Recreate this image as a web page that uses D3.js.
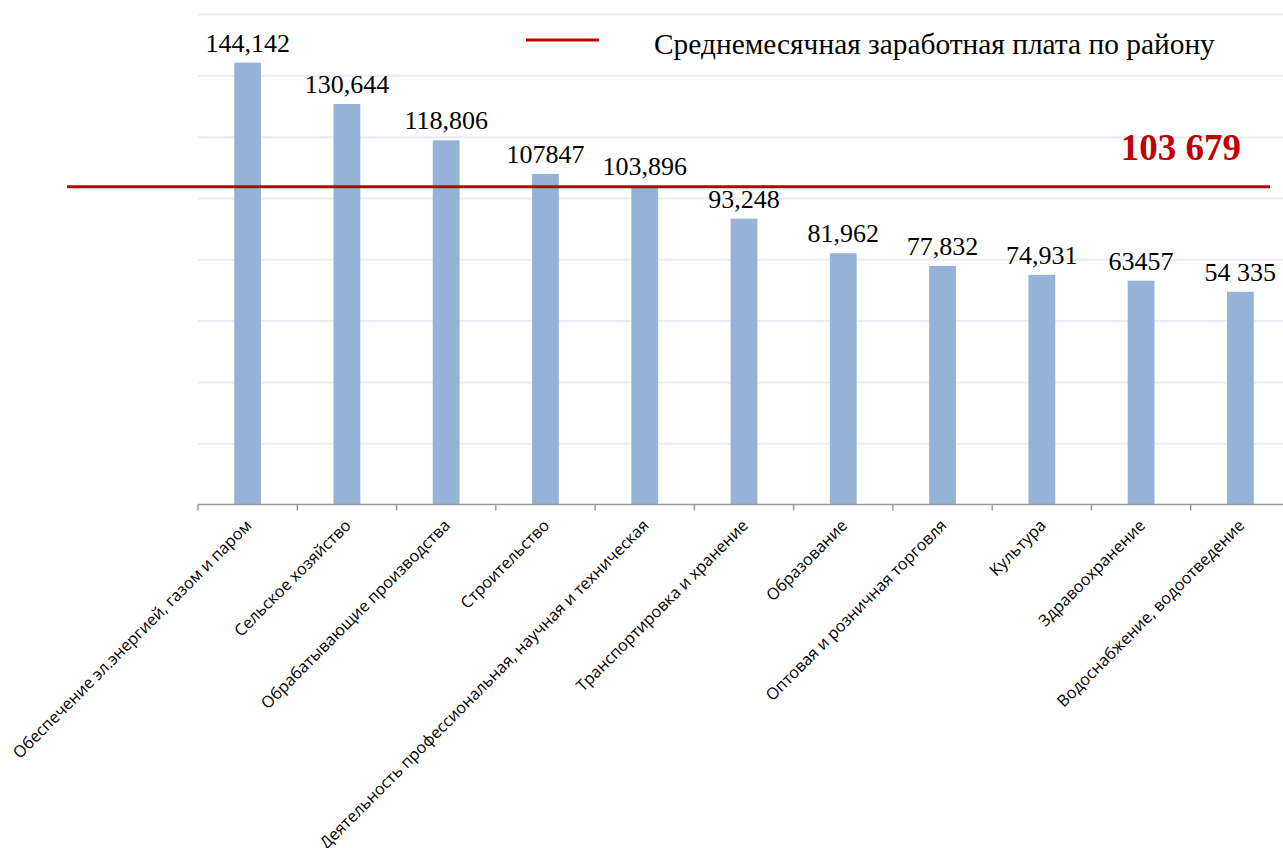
<!DOCTYPE html>
<html>
<head>
<meta charset="utf-8">
<script src="https://cdn.jsdelivr.net/npm/d3@7/dist/d3.min.js"></script>
<style>
  body { margin: 0; background: #fff; }
  svg { display: block; }
</style>
</head>
<body>
<svg id="chart" width="1283" height="848"></svg>
<script>
// ------------ DATA -----------------

const categories = [
  "Обеспечение эл.энергией, газом и паром",
  "Сельское хозяйство",
  "Обрабатывающие производства",
  "Строительство",
  "Деятельность профессиональная, научная и техническая",
  "Транспортировка и хранение",
  "Образование",
  "Оптовая и розничная торговля",
  "Культура",
  "Здравоохранение",
  "Водоснабжение, водоотведение"
];

// bar heights as drawn (last two bars are taller than their typed labels)
const values = [144142, 130644, 118806, 107847, 103896, 93248, 81962, 77832, 74931, 73000, 69400];

// labels exactly as printed over the bars
const valueLabels = ["144,142", "130,644", "118,806", "107847", "103,896", "93,248",
  "81,962", "77,832", "74,931", "63457", "54 335"];

const average = 103679;
const averageLabel = "103 679";
const legendLabel = "Среднемесячная заработная плата по району";

const gridValues = [20000, 40000, 60000, 80000, 100000, 120000, 140000, 160000];

// ------------ SCALES -----------------

const plotLeft = 198, plotRight = 1290, plotTop = 14, plotBottom = 504.5;

const x = d3.scaleBand()
  .domain(categories)
  .range([plotLeft, plotRight])
  .paddingInner(0.73)
  .paddingOuter(0.365);

const y = d3.scaleLinear()
  .domain([0, 160000])
  .range([plotBottom, plotTop]);

const svg = d3.select("#chart");

// ------------ GRID -----------------

svg.append("g")
  .attr("transform", `translate(${plotLeft},0)`)
  .call(d3.axisLeft(y).tickValues(gridValues).tickSize(-(plotRight - plotLeft)).tickFormat(""))
  .call(g => g.select(".domain").remove())
  .call(g => g.selectAll(".tick line").attr("stroke", "#e7ecf5").attr("stroke-width", 2));

// ------------ BARS -----------------

svg.append("g")
  .selectAll("rect")
  .data(values)
  .join("rect")
  .attr("x", (d, i) => x(categories[i]))
  .attr("y", d => y(d))
  .attr("width", x.bandwidth())
  .attr("height", d => y(0) - y(d))
  .attr("fill", "#95b3d7");

svg.append("g")
  .selectAll("text")
  .data(values)
  .join("text")
  .attr("x", (d, i) => x(categories[i]) + x.bandwidth() / 2)
  .attr("y", d => y(d) - 11)
  .attr("text-anchor", "middle")
  .style("font-family", "'Liberation Serif', 'Times New Roman', serif")
  .style("font-size", "26px")
  .attr("fill", "#000")
  .text((d, i) => valueLabels[i]);

// ------------ X AXIS -----------------

const step = x.step();
const cellStart = c => x(c) - (step - x.bandwidth()) / 2;

const axis = svg.append("g");
axis.append("line")
  .attr("x1", plotLeft).attr("x2", plotRight)
  .attr("y1", plotBottom).attr("y2", plotBottom)
  .attr("stroke", "#9a9a9a").attr("stroke-width", 1.5);

axis.selectAll(".tk")
  .data(categories)
  .join("line")
  .attr("class", "tk")
  .attr("x1", c => cellStart(c)).attr("x2", c => cellStart(c))
  .attr("y1", plotBottom).attr("y2", plotBottom + 6)
  .attr("stroke", "#9a9a9a").attr("stroke-width", 1.5);

axis.selectAll(".cat")
  .data(categories)
  .join("text")
  .attr("class", "cat")
  .attr("text-anchor", "end")
  .attr("transform", c => `translate(${x(c) + x.bandwidth() / 2 + 5},${plotBottom + 22}) rotate(-45)`)
  .style("font-family", "'Open Sans', sans-serif")
  .style("font-size", "16.2px")
  .attr("fill", "#000")
  .text(c => c);

// ------------ AVERAGE LINE -----------------

svg.append("line")
  .attr("x1", 67).attr("x2", 1270)
  .attr("y1", y(average)).attr("y2", y(average))
  .attr("stroke", "#c00000").attr("stroke-width", 3);

svg.append("text")
  .attr("x", 1241)
  .attr("y", 160)
  .attr("text-anchor", "end")
  .style("font-family", "'Liberation Serif', 'Times New Roman', serif")
  .style("font-size", "37px")
  .style("font-weight", "bold")
  .attr("fill", "#c00000")
  .text(averageLabel);

// ------------ LEGEND -----------------

svg.append("line")
  .attr("x1", 526).attr("x2", 599)
  .attr("y1", 40).attr("y2", 40)
  .attr("stroke", "#c00000").attr("stroke-width", 3);

svg.append("text")
  .attr("x", 654)
  .attr("y", 54)
  .style("font-family", "'Liberation Serif', 'Times New Roman', serif")
  .style("font-size", "29.4px")
  .attr("fill", "#000")
  .text(legendLabel);
</script>
</body>
</html>
